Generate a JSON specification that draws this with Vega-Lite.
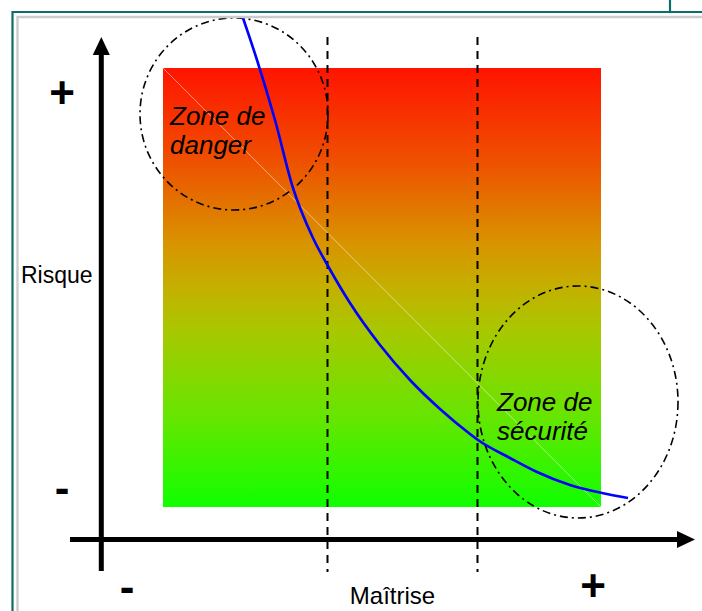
{
  "$schema": "https://vega.github.io/schema/vega-lite/v6.json",
  "width": 702,
  "height": 611,
  "autosize": {"type": "none"},
  "padding": 0,
  "background": "white",
  "config": {"view": {"stroke": null}},
  "encoding": {
    "x": {"field": "x", "type": "quantitative", "scale": {"domain": [0, 702], "nice": false, "zero": false}, "axis": null},
    "y": {"field": "y", "type": "quantitative", "scale": {"domain": [0, 611], "reverse": true, "nice": false, "zero": false}, "axis": null}
  },
  "layer": [
    {
      "data": {"values": [{"x": 163, "y": 68, "x2": 601, "y2": 507}]},
      "mark": {"type": "rect", "fill": {"gradient": "linear", "x1": 0, "y1": 0, "x2": 0, "y2": 1, "stops": [
        {"offset": 0, "color": "#ff1400"},
        {"offset": 0.2, "color": "#f04c00"},
        {"offset": 0.4, "color": "#d89400"},
        {"offset": 0.5, "color": "#c4b000"},
        {"offset": 0.6, "color": "#a8c800"},
        {"offset": 0.8, "color": "#64e600"},
        {"offset": 1, "color": "#10ff00"}
      ]}},
      "encoding": {"x2": {"field": "x2"}, "y2": {"field": "y2"}}
    },
    {
      "data": {"values": [{"x": 163, "y": 68, "x2": 601, "y2": 507}]},
      "mark": {"type": "rule", "color": "white", "opacity": 0.5, "strokeWidth": 1},
      "encoding": {"x2": {"field": "x2"}, "y2": {"field": "y2"}}
    },
    {
      "data": {"values": [{"x": 327.5, "y": 37, "y2": 572}, {"x": 477.5, "y": 37, "y2": 572}]},
      "mark": {"type": "rule", "color": "black", "strokeWidth": 2, "strokeDash": [8, 6]},
      "encoding": {"y2": {"field": "y2"}}
    },
    {
      "data": {"values": [{"zone": "danger", "x": 234, "y": 114}]},
      "mark": {"type": "point", "filled": false, "stroke": "black", "opacity": 1, "strokeWidth": 1.6, "strokeDash": [8, 4, 2, 4], "size": 35344,
        "shape": "M 1 0 C 1 0.564 0.5523 1.0213 0 1.0213 C -0.5523 1.0213 -1 0.564 -1 0 C -1 -0.564 -0.5523 -1.0213 0 -1.0213 C 0.5523 -1.0213 1 -0.564 1 0 Z"}
    },
    {
      "data": {"values": [{"zone": "sécurité", "x": 578, "y": 402}]},
      "mark": {"type": "point", "filled": false, "stroke": "black", "opacity": 1, "strokeWidth": 1.6, "strokeDash": [8, 4, 2, 4], "size": 40000,
        "shape": "M 1 0 C 1 0.6407 0.5523 1.16 0 1.16 C -0.5523 1.16 -1 0.6407 -1 0 C -1 -0.6407 -0.5523 -1.16 0 -1.16 C 0.5523 -1.16 1 -0.6407 1 0 Z"}
    },
    {
      "data": {"values": [
        {"axis": "Risque", "x": 101.3, "y": 52, "x2": 101.3, "y2": 571},
        {"axis": "Maîtrise", "x": 70, "y": 539.5, "x2": 680, "y2": 539.5}
      ]},
      "mark": {"type": "rule", "color": "black", "strokeWidth": 5},
      "encoding": {"x2": {"field": "x2"}, "y2": {"field": "y2"}}
    },
    {
      "data": {"values": [{"x": 101.3, "y": 46}]},
      "mark": {"type": "point", "filled": true, "color": "black", "opacity": 1, "size": 324, "shape": "M 0 -1 L 0.95 1 L -0.95 1 Z"}
    },
    {
      "data": {"values": [{"x": 686, "y": 539.5}]},
      "mark": {"type": "point", "filled": true, "color": "black", "opacity": 1, "size": 324, "shape": "M 1 0 L -1 -0.95 L -1 0.95 Z"}
    },
    {
      "data": {"values": [
        {"x": 243, "y": 18}, {"x": 257, "y": 60}, {"x": 275, "y": 120}, {"x": 293, "y": 188},
        {"x": 313, "y": 238}, {"x": 328, "y": 266}, {"x": 350, "y": 303}, {"x": 380, "y": 345},
        {"x": 410, "y": 380}, {"x": 440, "y": 409}, {"x": 470, "y": 434}, {"x": 478, "y": 440},
        {"x": 510, "y": 458}, {"x": 537, "y": 472}, {"x": 570, "y": 485}, {"x": 602, "y": 493},
        {"x": 628, "y": 498}
      ]},
      "mark": {"type": "line", "color": "#0000ff", "strokeWidth": 2.6, "interpolate": "monotone"},
      "encoding": {"order": {"field": "x", "type": "quantitative"}}
    },
    {
      "data": {"values": [
        {"label": "+", "x": 62, "y": 95},
        {"label": "+", "x": 593, "y": 588}
      ]},
      "mark": {"type": "text", "font": "Liberation Sans", "fontWeight": "bold", "fontSize": 44, "align": "center", "baseline": "middle", "color": "black"},
      "encoding": {"text": {"field": "label"}}
    },
    {
      "data": {"values": [
        {"label": "-", "x": 62, "y": 490},
        {"label": "-", "x": 127, "y": 589}
      ]},
      "mark": {"type": "text", "font": "Liberation Sans", "fontWeight": "bold", "fontSize": 44, "align": "center", "baseline": "middle", "color": "black"},
      "encoding": {"text": {"field": "label"}}
    },
    {
      "data": {"values": [{"label": "Risque", "x": 21, "y": 283}]},
      "mark": {"type": "text", "font": "Liberation Sans", "fontSize": 23, "align": "left", "baseline": "alphabetic", "color": "black"},
      "encoding": {"text": {"field": "label"}}
    },
    {
      "data": {"values": [{"label": "Maîtrise", "x": 392.5, "y": 604}]},
      "mark": {"type": "text", "font": "Liberation Sans", "fontSize": 24, "align": "center", "baseline": "alphabetic", "color": "black"},
      "encoding": {"text": {"field": "label"}}
    },
    {
      "data": {"values": [
        {"label": "Zone de", "x": 170, "y": 125},
        {"label": "danger", "x": 170, "y": 154},
        {"label": "Zone de", "x": 497, "y": 411},
        {"label": "sécurité", "x": 497, "y": 440}
      ]},
      "mark": {"type": "text", "font": "Liberation Sans", "fontStyle": "italic", "fontSize": 26, "align": "left", "baseline": "alphabetic", "color": "black"},
      "encoding": {"text": {"field": "label"}}
    },
    {
      "data": {"values": [{"x": 12.5, "y": 12, "x2": 800, "y2": 800}]},
      "mark": {"type": "rect", "fill": null, "stroke": "#0a6e6a", "strokeWidth": 2.2, "clip": true},
      "encoding": {"x2": {"field": "x2"}, "y2": {"field": "y2"}}
    },
    {
      "data": {"values": [{"x": 17.5, "y": 17, "x2": 800, "y2": 800}]},
      "mark": {"type": "rect", "fill": null, "stroke": "#cccccc", "strokeWidth": 2.4, "clip": true},
      "encoding": {"x2": {"field": "x2"}, "y2": {"field": "y2"}}
    },
    {
      "data": {"values": [{"x": 670, "y": 0, "y2": 11}]},
      "mark": {"type": "rule", "color": "#0a6e6a", "strokeWidth": 2.2},
      "encoding": {"y2": {"field": "y2"}}
    }
  ]
}
